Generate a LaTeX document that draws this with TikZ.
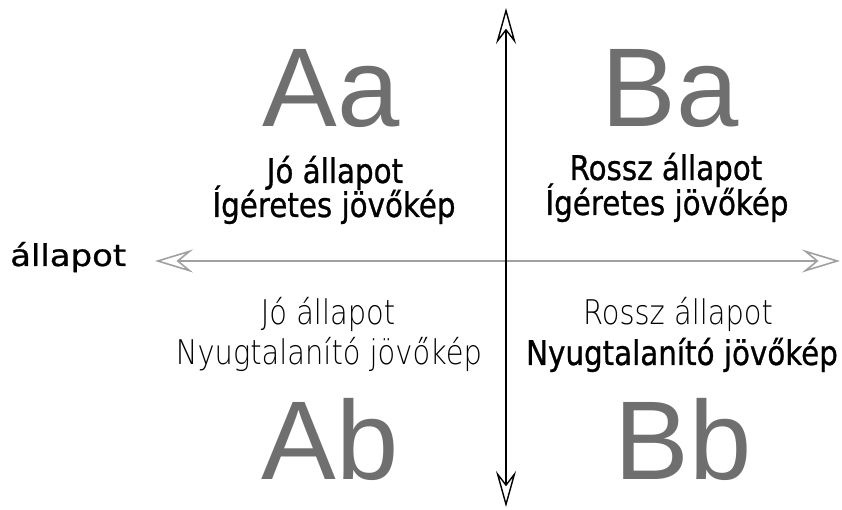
\documentclass[tikz,border=0pt]{standalone}
\usepackage{fontspec}
\setmainfont{DejaVu Sans Condensed}[FakeStretch=0.96,FakeBold=0.8]
\newfontfamily\letterfont{Liberation Sans}
\newfontfamily\thinfont{DejaVu Sans ExtraLight}[FakeStretch=0.85]
\newfontfamily\widefont{DejaVu Sans}[FakeStretch=1.13,FakeBold=0.8]
\usetikzlibrary{arrows.meta}
\definecolor{lettergray}{HTML}{6F6F6F}
\definecolor{axisgray}{HTML}{A0A0A0}
\begin{document}
\begin{tikzpicture}[x=1pt,y=1pt,every node/.style={inner sep=0pt,anchor=base}]
    \tikzset{
      haxis/.style={axisgray,line width=1.6pt,{Stealth[open,length=38pt,width=23pt,inset=14pt]}-{Stealth[open,length=38pt,width=23pt,inset=14pt]}},
      vaxis/.style={black,line width=1.4pt,{Stealth[open,length=36pt,width=20pt,inset=13pt]}-{Stealth[open,length=36pt,width=20pt,inset=13pt]}},
      quadrant/.style={lettergray,font=\letterfont\fontsize{112}{112}\selectfont},
      strong/.style={font=\fontsize{34}{40}\selectfont},
      thin/.style={font=\thinfont\fontsize{34}{40}\selectfont}
    }
    \useasboundingbox (0,0) rectangle (842,510);
    % axes
    \coordinate (left) at (155,249);
    \coordinate (right) at (840,249);
    \coordinate (top) at (506,502);
    \coordinate (bottom) at (506,3);
    \draw[haxis] (left) -- (right);
    \draw[vaxis] (bottom) -- (top);
    \node[font=\widefont\fontsize{30}{34}\selectfont,anchor=base west] (axislabel) at (10,244) {állapot};
    % quadrant letters
    \node[quadrant] (aa) at (331,383) {Aa};
    \node[quadrant] (ba) at (670,383) {Ba};
    \node[quadrant] (ab) at (330,30) {Ab};
    \node[quadrant] (bb) at (683,30) {Bb};
    % upper texts
    \node[strong] (aa1) at (335,327) {Jó állapot};
    \node[strong] (aa2) at (334,293) {Ígéretes jövőkép};
    \node[strong] (ba1) at (666,330) {Rossz állapot};
    \node[strong] (ba2) at (667,295) {Ígéretes jövőkép};
    % lower texts
    \node[thin] (ab1) at (328,185) {Jó állapot};
    \node[thin] (ab2) at (329,145) {Nyugtalanító jövőkép};
    \node[thin] (bb1) at (678,185) {Rossz állapot};
    \node[strong] (bb2) at (682,145) {Nyugtalanító jövőkép};
  \end{tikzpicture}
\end{document}
